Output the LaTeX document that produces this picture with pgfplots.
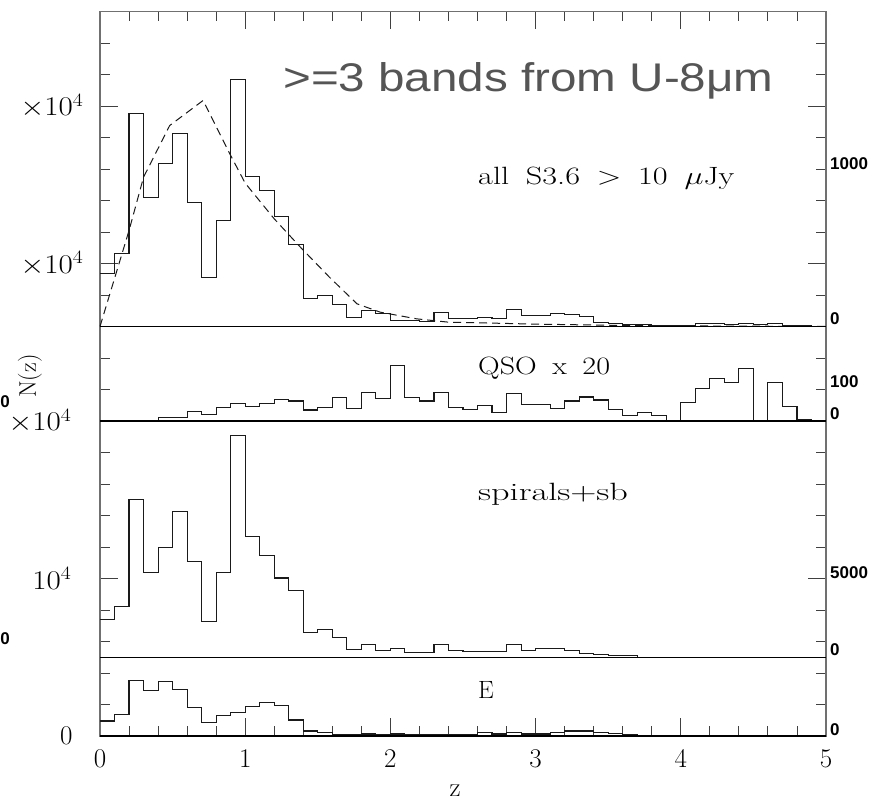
\RequirePackage{fix-cm}
\documentclass[border=0pt]{standalone}
\usepackage{fontspec}
\usepackage{graphicx}
\usepackage{pgfplots}
\usepackage{pgfplotstable}
\pgfplotsset{compat=1.18}
\newfontfamily\arialf{Liberation Sans}
\definecolor{framegray}{HTML}{707070}
\definecolor{tickgray}{HTML}{404040}
\definecolor{histcol}{HTML}{1A1A1A}
\definecolor{titlegray}{HTML}{555555}

\pgfplotstableread{
x all qso sp e
0.0 3346 0 2393 952
0.1 4614 0 3238 1375
0.2 13500 40 10031 3513
0.3 8212 40 5375 2878
0.4 10370 212 6964 3449
0.5 12232 212 9227 2963
0.6 7852 592 6053 1799
0.7 3090 423 2265 846
0.8 6730 846 5375 1291
0.9 15660 1121 14095 1503
1.0 9545 910 7640 1862
1.1 8635 1121 6455 2138
1.2 7005 1375 5035 1926
1.3 5206 1270 4254 1016
1.4 1798 698 1587 317
1.5 1968 846 1778 233
1.6 1397 1481 1228 63
1.7 592 783 487 63
1.8 1016 1799 825 127
1.9 804 1418 444 63
2.0 381 3534 550 127
2.1 381 1481 275 63
2.2 340 1270 275 63
2.3 910 1799 825 63
2.4 487 846 444 63
2.5 487 740 381 63
2.6 550 994 381 212
2.7 520 529 381 127
2.8 1058 1735 825 212
2.9 698 1058 444 127
3.0 720 1058 550 127
3.1 804 783 550 212
3.2 760 1270 444 317
3.3 635 1524 233 317
3.4 275 1333 169 233
3.5 211 740 85 170
3.6 120 360 85 85
3.7 100 529 0 0
3.8 80 360 0 0
3.9 60 0 0 0
4.0 60 1164 0 0
4.1 190 2074 0 0
4.2 200 2687 0 0
4.3 150 2433 0 0
4.4 170 3322 0 0
4.5 100 0 0 0
4.6 170 2433 0 0
4.7 60 910 0 0
4.8 40 106 0 0
4.9 20 0 0 0
5.0 20 0 0 0
}\histtab

\pgfplotstableread{
x y
0.00 0
0.20 6095
0.30 9480
0.48 12762
0.71 14350
0.90 10857
1.00 9100
1.20 6836
1.38 5037
1.58 3132
1.77 1439
1.93 910
2.18 487
2.40 275
2.70 215
3.00 150
3.50 80
4.00 40
4.50 20
5.00 0
}\modeltab

\newcommand{\wide}[1]{\scalebox{1.15}[1]{#1}}

\pgfplotsset{
  panel/.style={
    scale only axis, width=726pt, xmin=0, xmax=5, ymin=0,
    anchor=south west, clip=false,
    axis line style={draw=framegray, line width=1.1pt},
    every tick/.style={draw=tickgray, line width=0.9pt},
    major tick length=18pt, minor tick length=10pt,
    scaled y ticks=false, scaled x ticks=false,
    ytick pos=both, yticklabel pos=left,
    every tick label/.append style={font=\fontsize{27}{30}\selectfont},
    yticklabel style={xshift=-13pt},
    xticklabel style={yshift=-11pt},
  },
  hist/.style={const plot, draw=histcol, line width=1.1pt, no marks},
  base/.style={draw=black, line width=1.3pt, no marks},
}

\begin{document}
\begin{tikzpicture}
\useasboundingbox (0,0) rectangle (888pt,801pt);

% panel 4: E
\begin{axis}[panel, at={(100pt,65pt)}, height=78.75pt, ymax=5000,
  xtick={0,1,2,3,4,5}, minor xtick={0.2,0.4,0.6,0.8,1.2,1.4,1.6,1.8,2.2,2.4,2.6,2.8,3.2,3.4,3.6,3.8,4.2,4.4,4.6,4.8},
  xtick pos=left,
  ytick={0}, yticklabels={$0$}, yticklabel style={xshift=-11pt}, minor ytick={2000,4000}]
\addplot[hist] table[x=x, y=e] {\histtab};
\addplot[base] coordinates {(0,0) (5,0)};
\end{axis}

% panel 3: spirals+sb
\begin{axis}[panel, at={(100pt,143.75pt)}, height=236.25pt, ymax=15000,
  xtick=\empty,
  ytick={5000,15000}, yticklabels={\wide{$10^4$},\wide{$\times10^4$}},
  yticklabel style={xshift=-12pt},
  minor ytick={1000,3000,7000,9000,11000,13000}]
\addplot[hist] table[x=x, y=sp] {\histtab};
\addplot[base] coordinates {(0,0) (5,0)};
\end{axis}

% panel 2: QSO
\begin{axis}[panel, at={(100pt,380pt)}, height=94.5pt, ymax=6000,
  xtick=\empty, major tick length=10pt,
  ytick={2000,4000}, yticklabels={}]
\addplot[hist] table[x=x, y=qso] {\histtab};
\addplot[base] coordinates {(0,0) (5,0)};
\end{axis}

% panel 1: all
\begin{axis}[panel, at={(100pt,474.5pt)}, height=315pt, ymax=20000,
  xtick={0,1,2,3,4,5}, minor xtick={0.2,0.4,0.6,0.8,1.2,1.4,1.6,1.8,2.2,2.4,2.6,2.8,3.2,3.4,3.6,3.8,4.2,4.4,4.6,4.8},
  xtick pos=right, xticklabels={},
  ytick={4000,14000}, yticklabels={\wide{$\times10^4$},\wide{$\times10^4$}},
  minor ytick={2000,6000,8000,10000,12000,16000,18000}]
\addplot[hist] table[x=x, y=all] {\histtab};
\addplot[draw=histcol, line width=1.0pt, dash pattern=on 8pt off 5pt, no marks] table[x=x, y=y] {\modeltab};
\addplot[base] coordinates {(0,0) (5,0)};
\end{axis}

% panel texts
\node[anchor=base west, inner sep=0] at (478pt,616pt)
  {\fontsize{25}{30}\selectfont\scalebox{1.29}[1]{all\hspace{13pt}S3.6\hspace{13pt}$>$\hspace{13pt}10\hspace{13pt}$\mu$Jy}};
\node[anchor=base west, inner sep=0] at (478pt,426pt)
  {\fontsize{25}{30}\selectfont\scalebox{1.2}[1]{QSO\hspace{13pt}x\hspace{13pt}20}};
\node[anchor=base west, inner sep=0] at (478pt,301pt)
  {\fontsize{25}{30}\selectfont\scalebox{1.45}[1]{spirals+sb}};
\node[anchor=base west, inner sep=0] at (478pt,103pt)
  {\fontsize{25}{30}\selectfont E};

% overlay title
\node[anchor=base west, inner sep=0, text=titlegray] at (283pt,709pt)
  {\arialf\fontsize{40}{48}\selectfont\scalebox{1.19}[1]{>=3 bands from U-8μm}};

% axis labels
\node[anchor=base, inner sep=0] at (455pt,5pt) {\fontsize{27}{30}\selectfont z};
\node[rotate=90, inner sep=0] at (30pt,425pt) {\fontsize{24}{28}\selectfont N(z)};

% overlay side labels
\begin{scope}[every node/.style={inner sep=0, font=\arialf\bfseries\fontsize{17}{20}\selectfont}]
\node[anchor=west] at (830pt,637pt) {1000};
\node[anchor=west] at (830pt,482pt) {0};
\node[anchor=west] at (830pt,419pt) {100};
\node[anchor=west] at (830pt,387pt) {0};
\node[anchor=west] at (830pt,228pt) {5000};
\node[anchor=west] at (830pt,151pt) {0};
\node[anchor=west] at (830pt,71pt) {0};
\node[anchor=east] at (10pt,399pt) {0};
\node[anchor=east] at (10pt,162pt) {0};
\end{scope}
\end{tikzpicture}
\end{document}
